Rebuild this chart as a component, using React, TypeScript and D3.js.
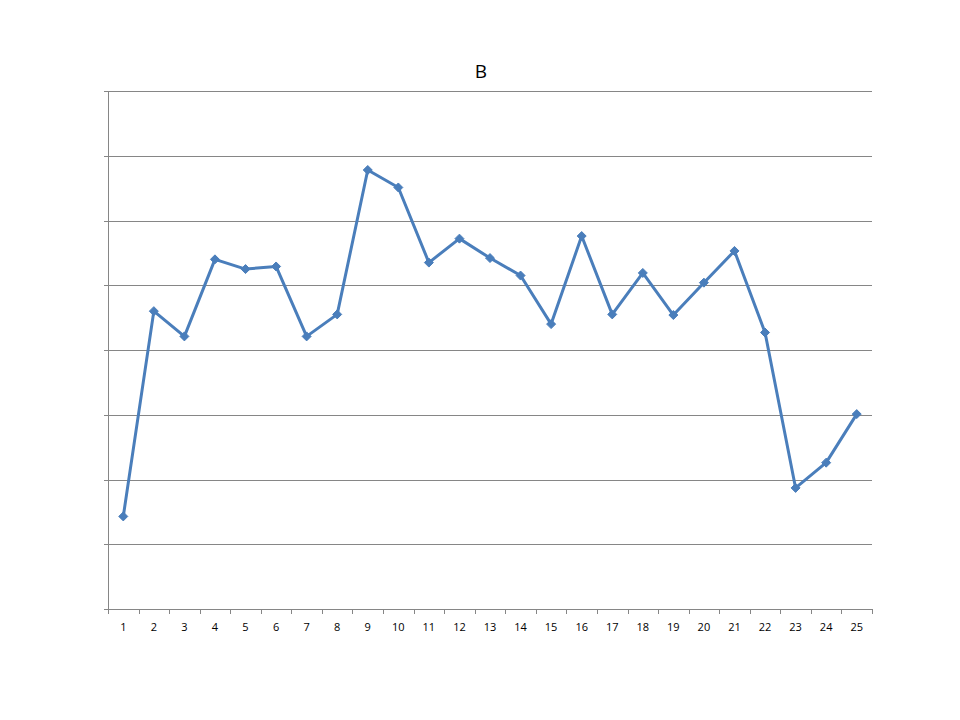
import React from "react";
import * as d3 from "d3";

const categories: string[] = Array.from({ length: 25 }, (_, i) => String(i + 1));
const seriesB: number[] = [
  1.43, 4.6, 4.21, 5.4, 5.25, 5.29, 4.21, 4.55, 6.78, 6.51,
  5.35, 5.72, 5.42, 5.15, 4.4, 5.76, 4.55, 5.19, 4.54, 5.04,
  5.53, 4.27, 1.87, 2.26, 3.01,
];
const yTicks: number[] = [0, 1, 2, 3, 4, 5, 6, 7, 8];
const title = "B";

export default function App() {
  const W = 960, H = 720;
  const left = 108, right = 872, top = 91, bottom = 609;
  const x = d3.scaleBand<string>().domain(categories).range([left, right]).padding(0);
  const y = d3.scaleLinear().domain([0, 8]).range([bottom, top]);
  const line = d3
    .line<number>()
    .x((_, i) => (x(categories[i]) as number) + x.bandwidth() / 2)
    .y((d) => y(d));
  const color = "#4A7EBB";
  const grid = "#868686";
  const boundaries = categories.map((c) => x(c) as number).concat([right]);
  const r = 4.5;
  const diamond = `M0,${-r}L${r},0L0,${r}L${-r},0Z`;

  return (
    <svg
      width={W}
      height={H}
      style={{ position: "absolute", left: 0, top: 0, background: "#fff" }}
    >
      <rect x={0} y={0} width={W} height={H} fill="#fff" />
      <text
        x={481}
        y={78}
        textAnchor="middle"
        fontFamily="'Open Sans', 'DejaVu Sans', sans-serif"
        fontSize={19}
        fill="#000"
      >
        {title}
      </text>
      {yTicks.map((t) => (
        <line
          key={"g" + t}
          x1={left - 4}
          x2={right}
          y1={Math.round(y(t)) + 0.5}
          y2={Math.round(y(t)) + 0.5}
          stroke={grid}
          strokeWidth={1}
        />
      ))}
      <line x1={left + 0.5} x2={left + 0.5} y1={top} y2={bottom + 0.5} stroke={grid} strokeWidth={1} />
      {boundaries.map((b, i) => (
        <line
          key={"xt" + i}
          x1={Math.round(b) + 0.5}
          x2={Math.round(b) + 0.5}
          y1={bottom}
          y2={bottom + 5}
          stroke={grid}
          strokeWidth={1}
        />
      ))}
      {categories.map((c) => (
        <text
          key={"xl" + c}
          x={(x(c) as number) + x.bandwidth() / 2}
          y={631}
          textAnchor="middle"
          fontFamily="'Open Sans', 'DejaVu Sans', sans-serif"
          fontSize={11}
          fill="#000"
        >
          {c}
        </text>
      ))}
      <path
        d={line(seriesB) || ""}
        fill="none"
        stroke={color}
        strokeWidth={3}
        strokeLinejoin="round"
      />
      {seriesB.map((v, i) => (
        <path
          key={"m" + i}
          d={diamond}
          transform={`translate(${(x(categories[i]) as number) + x.bandwidth() / 2},${y(v)})`}
          fill={color}
          stroke={color}
          strokeWidth={1}
        />
      ))}
    </svg>
  );
}
